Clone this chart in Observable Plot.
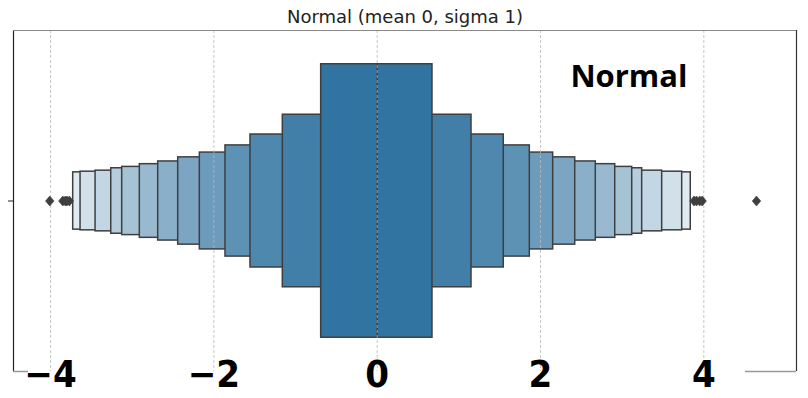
<!DOCTYPE html>
<html>
<head>
<meta charset="utf-8">
<script src="https://cdn.jsdelivr.net/npm/d3@7"></script>
<script src="https://cdn.jsdelivr.net/npm/@observablehq/plot@0.6"></script>
<style>
  html, body { margin: 0; padding: 0; background: #fff; }
</style>
</head>
<body>
<div id="chart"></div>
<script>
// ---- data (letter-value boxes, innermost first) ----
const lvLower = [-0.686, -1.156, -1.552, -1.858, -2.172, -2.437, -2.682, -2.907, -3.123, -3.257, -3.449, -3.633, -3.723];
const lvUpper = [0.677, 1.155, 1.550, 1.869, 2.155, 2.425, 2.677, 2.915, 3.123, 3.245, 3.490, 3.735, 3.840];
const boxHalfWidth = [0.401, 0.253, 0.195, 0.163, 0.142, 0.128, 0.116, 0.108, 0.100, 0.096, 0.089, 0.086, 0.084];
const medianValue = 0.0;
const outliers = [-4.01, -3.85, -3.82, -3.80, -3.77, 3.88, 3.91, 3.95, 3.98, 4.645];
const xTicks = [-4, -2, 0, 2, 4];
const yTicks = [0];
const titleText = "Normal (mean 0, sigma 1)";
const annotation = "Normal";

// ---- layout / style ----
const xDomain = [-4.454, 5.135];
const yDomain = [-0.5, 0.5];
const baseColor = "#3274a1";
const edge = "#3f3f3f";
const n = lvLower.length;

const boxes = lvLower.map((lo, i) => ({
  level: i, x1: lo, x2: lvUpper[i], h: boxHalfWidth[i],
  fill: d3.interpolateRgb(baseColor, "#ffffff")(0.85 * i / (n - 1))
})).reverse();

const thinDiamond = {
  draw(ctx, size) {
    const r = Math.sqrt(size / Math.PI);
    ctx.moveTo(0, -r);
    ctx.lineTo(r * 0.85, 0);
    ctx.lineTo(0, r);
    ctx.lineTo(-r * 0.85, 0);
    ctx.closePath();
  }
};

const fmt = d => (d < 0 ? "\u2212" : "") + Math.abs(d);

const chart = Plot.plot({
  width: 808,
  height: 398,
  marginLeft: 13,
  marginRight: 12,
  marginTop: 30,
  marginBottom: 27,
  x: { type: "linear", domain: xDomain, axis: null },
  y: { type: "linear", domain: yDomain, axis: null },
  marks: [
    // boxes
    Plot.rect(boxes, {
      x1: "x1", x2: "x2",
      y1: d => -d.h, y2: d => d.h,
      fill: "fill", stroke: edge, strokeWidth: 1.5
    }),
    // median
    Plot.ruleX([medianValue], { x: d => d, y1: -boxHalfWidth[0], y2: boxHalfWidth[0], stroke: edge, strokeWidth: 1.5 }),
    // gridlines over the boxes
    Plot.ruleX(xTicks, { x: d => d, stroke: "#b8b8b8", strokeWidth: 0.8, strokeDasharray: "3,2" }),
    // outliers
    Plot.dot(outliers, { x: d => d, y: 0, r: 5, symbol: thinDiamond, fill: edge, stroke: edge, strokeWidth: 0.6 }),
    // spines
    Plot.ruleX([xDomain[0]], { x: d => d, stroke: "#222", strokeWidth: 1.2 }),
    Plot.ruleX([xDomain[1]], { x: d => d, stroke: "#333", strokeWidth: 1.2 }),
    Plot.ruleY([yDomain[1]], { y: d => d, stroke: "#8a8a8a", strokeWidth: 1.2 }),
    Plot.ruleY([yDomain[0]], { y: d => d, x1: xDomain[0], x2: -4.27, stroke: "#999", strokeWidth: 1.5 }),
    Plot.ruleY([yDomain[0]], { y: d => d, x1: 4.51, x2: xDomain[1], stroke: "#999", strokeWidth: 1.5 }),
    // y tick
    Plot.axisY(yTicks, { anchor: "left", tickSize: 5, tickFormat: () => "", stroke: "#222", label: null }),
    // x tick labels
    Plot.text(xTicks, {
      x: d => d, frameAnchor: "bottom", text: fmt,
      fontFamily: "Liberation Sans Narrow, DejaVu Sans Condensed, sans-serif",
      fontWeight: "bold", fontSize: 38, lineAnchor: "middle", dy: 3, fill: "#000"
    }),
    // title
    Plot.text([titleText], {
      frameAnchor: "top", dy: -13, text: d => d,
      fontFamily: "DejaVu Sans, sans-serif", fontSize: 18, fill: "#222", lineAnchor: "middle"
    }),
    // annotation
    Plot.text([annotation], {
      frameAnchor: "top-right", dx: -109, dy: 47, text: d => d,
      textAnchor: "end", lineAnchor: "middle",
      fontFamily: "Open Sans, sans-serif", fontWeight: "bold", fontSize: 31, fill: "#000"
    })
  ]
});
document.getElementById("chart").appendChild(chart);
</script>
</body>
</html>
